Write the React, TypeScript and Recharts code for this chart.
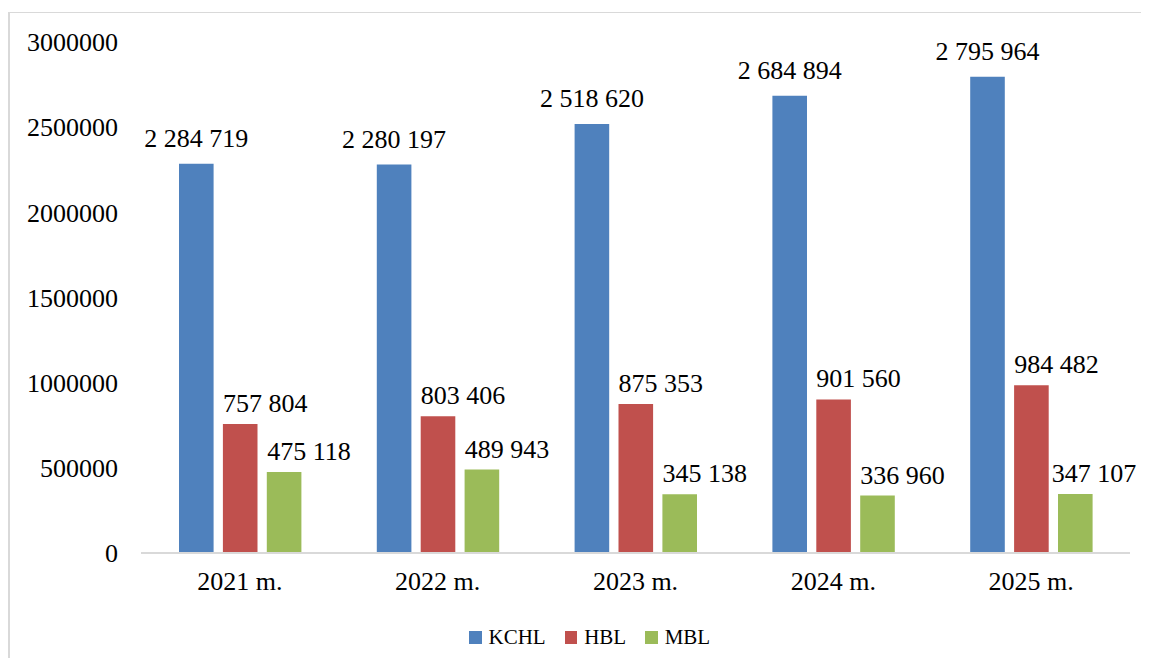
import React from 'react';
import { BarChart, Bar, XAxis, YAxis, Legend, LabelList } from 'recharts';

const categories = ['2021 m.', '2022 m.', '2023 m.', '2024 m.', '2025 m.'];
const kchl = [2284719, 2280197, 2518620, 2684894, 2795964];
const hbl = [757804, 803406, 875353, 901560, 984482];
const mbl = [475118, 489943, 345138, 336960, 347107];
const yTicks = [0, 500000, 1000000, 1500000, 2000000, 2500000, 3000000];

const seriesInfo = [
  { key: 'KCHL', color: '#4F81BD' },
  { key: 'HBL', color: '#C0504D' },
  { key: 'MBL', color: '#9BBB59' },
];

const data = categories.map((c, i) => ({ name: c, KCHL: kchl[i], HBL: hbl[i], MBL: mbl[i] }));

const W = 1141;
const H = 650;
const MARGIN = { top: 34, right: 19, bottom: 50, left: 0 };
const FONT = '"Liberation Serif", "Times New Roman", serif';

const fmt = (v: number) => String(v).replace(/\B(?=(\d{3})+(?!\d))/g, ' ');

const makeLabel = (dx: number, rise: number) => (props: any) => {
  const { x, y, width, value } = props;
  const maxCenter = W - MARGIN.right - 36;
  const cx = Math.min(Number(x) + Number(width) / 2 + dx, maxCenter);
  return (
    <text
      x={cx}
      y={Number(y) - rise}
      textAnchor="middle"
      fontFamily={FONT}
      fontSize={26}
      fill="#000"
    >
      {fmt(Number(value))}
    </text>
  );
};

const labelFns = [makeLabel(0, 17), makeLabel(25, 12), makeLabel(25, 12)];

const LegendContent = () => (
  <div style={{ display: 'flex', alignItems: 'center', fontFamily: FONT, fontSize: 21, color: '#000' }}>
    {seriesInfo.map((s, i) => (
      <div key={s.key} style={{ display: 'flex', alignItems: 'center', marginRight: i < seriesInfo.length - 1 ? 19 : 0 }}>
        <span style={{ display: 'inline-block', width: 12.5, height: 12.5, background: s.color, marginRight: 7 }} />
        <span>{s.key}</span>
      </div>
    ))}
  </div>
);

export default function App() {
  return (
    <div style={{ position: 'relative', width: W, height: H, overflow: 'hidden' }}>
      <div
        style={{
          position: 'absolute',
          left: 0,
          top: 4,
          width: 3000,
          height: 3000,
          borderLeft: '2px solid #d9d9d9',
          borderTop: '1px solid #d9d9d9',
          boxSizing: 'border-box',
        }}
      />
      <div style={{ position: 'absolute', left: 0, top: 0 }}>
        <BarChart width={W} height={H} data={data} margin={MARGIN} barSize={34.6} barGap={9.3}>
          <XAxis
            dataKey="name"
            height={30}
            tickLine={false}
            tickSize={0}
            tickMargin={19}
            axisLine={{ stroke: '#d9d9d9', strokeWidth: 2 }}
            tick={{ fill: '#000', fontFamily: FONT, fontSize: 26 }}
            interval={0}
          />
          <YAxis
            width={133}
            domain={[0, 3000000]}
            ticks={yTicks}
            tickLine={false}
            tickSize={0}
            tickMargin={23}
            axisLine={false}
            tick={{ fill: '#000', fontFamily: FONT, fontSize: 26 }}
            interval={0}
          />
          <Legend
            content={<LegendContent />}
            wrapperStyle={{ position: 'absolute', left: 461, top: 617, width: 'auto', height: 'auto' }}
          />
          {seriesInfo.map((s, i) => (
            <Bar key={s.key} dataKey={s.key} fill={s.color} isAnimationActive={false}>
              <LabelList dataKey={s.key} content={labelFns[i]} />
            </Bar>
          ))}
        </BarChart>
      </div>
    </div>
  );
}
